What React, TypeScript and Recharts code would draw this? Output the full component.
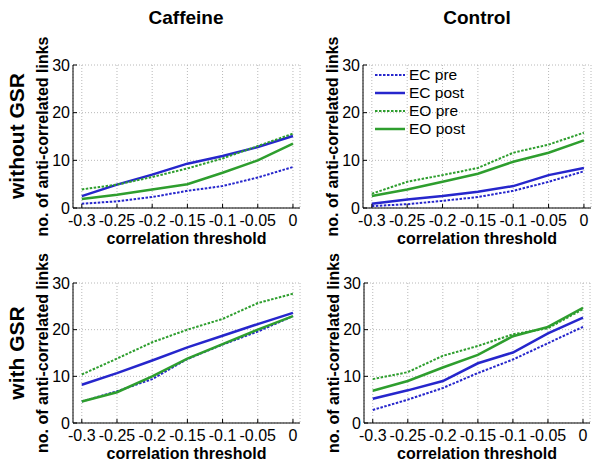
import { LineChart, Line, XAxis, YAxis, CartesianGrid, Legend } from 'recharts';

const FONT = '"Liberation Sans", Arial, Helvetica, sans-serif';

// x values (correlation threshold)
const thresholds = [-0.3, -0.25, -0.2, -0.15, -0.1, -0.05, 0];
const yTicks = [0, 10, 20, 30];

// Caffeine, without GSR
const cafNoGsrEcPre = [0.9, 1.4, 2.3, 3.6, 4.6, 6.4, 8.6];
const cafNoGsrEcPost = [2.5, 4.9, 7.0, 9.3, 10.9, 12.8, 15.1];
const cafNoGsrEoPre = [3.9, 4.9, 6.5, 8.3, 10.4, 13.0, 15.6];
const cafNoGsrEoPost = [1.9, 2.8, 3.9, 5.0, 7.4, 10.0, 13.5];

// Control, without GSR
const ctlNoGsrEcPre = [0.4, 0.8, 1.5, 2.3, 3.6, 5.5, 7.7];
const ctlNoGsrEcPost = [0.9, 1.8, 2.5, 3.4, 4.6, 6.9, 8.4];
const ctlNoGsrEoPre = [3.0, 5.5, 6.9, 8.4, 11.6, 13.3, 15.8];
const ctlNoGsrEoPost = [2.5, 3.9, 5.5, 7.2, 9.7, 11.6, 14.2];

// Caffeine, with GSR
const cafGsrEcPre = [4.6, 6.8, 9.4, 13.7, 16.8, 19.6, 22.9];
const cafGsrEcPost = [8.2, 10.7, 13.4, 16.2, 18.7, 21.2, 23.6];
const cafGsrEoPre = [10.4, 13.8, 17.3, 20.0, 22.3, 25.7, 27.7];
const cafGsrEoPost = [4.6, 6.6, 10.0, 13.8, 16.9, 20.0, 22.9];

// Control, with GSR
const ctlGsrEcPre = [2.8, 5.0, 7.5, 10.7, 13.6, 17.1, 20.6];
const ctlGsrEcPost = [5.2, 7.0, 9.0, 12.8, 15.1, 19.2, 22.6];
const ctlGsrEoPre = [9.4, 10.9, 14.4, 16.5, 19.0, 20.3, 24.4];
const ctlGsrEoPost = [6.9, 9.0, 11.9, 14.6, 18.6, 20.6, 24.7];

const BLUE = '#2626cc';
const GREEN = '#2e9e2e';

const seriesDefs = [
  { key: 'ecPre', name: 'EC pre', color: BLUE, dash: '2.5 1.5', width: 2 },
  { key: 'ecPost', name: 'EC post', color: BLUE, dash: undefined, width: 2.5 },
  { key: 'eoPre', name: 'EO pre', color: GREEN, dash: '2.5 1.5', width: 2 },
  { key: 'eoPost', name: 'EO post', color: GREEN, dash: undefined, width: 2.5 },
];

const buildRows = (ecPre: number[], ecPost: number[], eoPre: number[], eoPost: number[]) =>
  thresholds.map((t, i) => ({ t, ecPre: ecPre[i], ecPost: ecPost[i], eoPre: eoPre[i], eoPost: eoPost[i] }));

// plot boxes: left/top of the plot area in page pixels
const panels = [
  { id: 'cafNo', plotX: 73, plotY: 65, plotW: 227, plotH: 143, legend: false,
    data: buildRows(cafNoGsrEcPre, cafNoGsrEcPost, cafNoGsrEoPre, cafNoGsrEoPost) },
  { id: 'ctlNo', plotX: 363, plotY: 65, plotW: 228, plotH: 143, legend: true,
    data: buildRows(ctlNoGsrEcPre, ctlNoGsrEcPost, ctlNoGsrEoPre, ctlNoGsrEoPost) },
  { id: 'cafGsr', plotX: 73, plotY: 283, plotW: 227, plotH: 140, legend: false,
    data: buildRows(cafGsrEcPre, cafGsrEcPost, cafGsrEoPre, cafGsrEoPost) },
  { id: 'ctlGsr', plotX: 364, plotY: 283, plotW: 226, plotH: 140, legend: false,
    data: buildRows(ctlGsrEcPre, ctlGsrEcPost, ctlGsrEoPre, ctlGsrEoPost) },
];

const X_DOMAIN: [number, number] = [-0.3125, 0.01];
const Y_AXIS_W = 60;
const X_AXIS_H = 45;
const TOP_M = 45;
const tickStyle = { fill: '#000', fontSize: 16, fontFamily: FONT };

const LegendBox = () => (
  <div style={{ fontFamily: FONT, fontSize: 15.5, color: '#000', lineHeight: '18px' }}>
    {seriesDefs.map((def) => (
      <div key={def.key} style={{ display: 'flex', alignItems: 'center', height: 18 }}>
        <svg width={30} height={4}>
          <line x1={0} y1={2} x2={30} y2={2} stroke={def.color} strokeWidth={def.width} strokeDasharray={def.dash} />
        </svg>
        <span style={{ marginLeft: 4 }}>{def.name}</span>
      </div>
    ))}
  </div>
);

function Panel({ p }: { p: (typeof panels)[number] }) {
  const width = Y_AXIS_W + p.plotW + 10;
  const height = TOP_M + p.plotH + X_AXIS_H;
  return (
    <div style={{ position: 'absolute', left: p.plotX - Y_AXIS_W, top: p.plotY - TOP_M }}>
      <LineChart width={width} height={height} data={p.data} margin={{ top: TOP_M, right: 10, left: 0, bottom: 0 }}>
        <CartesianGrid stroke="#b8b8b8" strokeDasharray="1 2" />
        <XAxis
          dataKey="t"
          type="number"
          domain={X_DOMAIN}
          ticks={thresholds}
          interval={0}
          allowDataOverflow
          height={X_AXIS_H}
          stroke="#000"
          tick={tickStyle}
          tickSize={-4}
          tickMargin={11}
          label={{ value: 'correlation threshold', position: 'center', dy: 8, fill: '#000', fontSize: 16, fontWeight: 'bold', fontFamily: FONT }}
        />
        <XAxis xAxisId="top" orientation="top" type="number" domain={X_DOMAIN} ticks={thresholds} allowDataOverflow height={0} stroke="#000" tick={false} tickSize={-4} />
        <YAxis
          type="number"
          domain={[0, 30]}
          ticks={yTicks}
          interval={0}
          width={Y_AXIS_W}
          stroke="#000"
          tick={tickStyle}
          tickSize={-4}
          tickMargin={7}
          label={{ value: 'no. of anti-correlated links', angle: -90, position: 'center', dx: -1, fill: '#000', fontSize: 16, fontWeight: 'bold', fontFamily: FONT }}
        />
        <YAxis yAxisId="right" orientation="right" type="number" domain={[0, 30]} ticks={yTicks} width={0} stroke="#000" tick={false} tickSize={-4} />
        {seriesDefs.map((s) => (
          <Line
            key={s.key}
            dataKey={s.key}
            name={s.name}
            stroke={s.color}
            strokeWidth={s.width}
            strokeDasharray={s.dash}
            dot={false}
            isAnimationActive={false}
          />
        ))}
        {p.legend && (
          <Legend
            layout="vertical"
            align="center"
            verticalAlign="middle"
            content={<LegendBox />}
            wrapperStyle={{ left: 12 + Y_AXIS_W, top: TOP_M + 1, width: 'auto' }}
          />
        )}
      </LineChart>
    </div>
  );
}

export default function App() {
  return (
    <div style={{ position: 'absolute', left: 0, top: 0, width: 600, height: 464, background: '#fff', fontFamily: FONT }}>
      <svg width={600} height={464} style={{ position: 'absolute', left: 0, top: 0 }}>
        <text x={186} y={24} textAnchor="middle" fontSize={19} fontWeight="bold" fontFamily={FONT}>Caffeine</text>
        <text x={477} y={24} textAnchor="middle" fontSize={19} fontWeight="bold" fontFamily={FONT}>Control</text>
        <text transform="translate(24,136) rotate(-90)" textAnchor="middle" fontSize={21} fontWeight="bold" fontFamily={FONT}>without GSR</text>
        <text transform="translate(24,353) rotate(-90)" textAnchor="middle" fontSize={21} fontWeight="bold" fontFamily={FONT}>with GSR</text>
      </svg>
      {panels.map((p) => (
        <Panel key={p.id} p={p} />
      ))}
    </div>
  );
}
